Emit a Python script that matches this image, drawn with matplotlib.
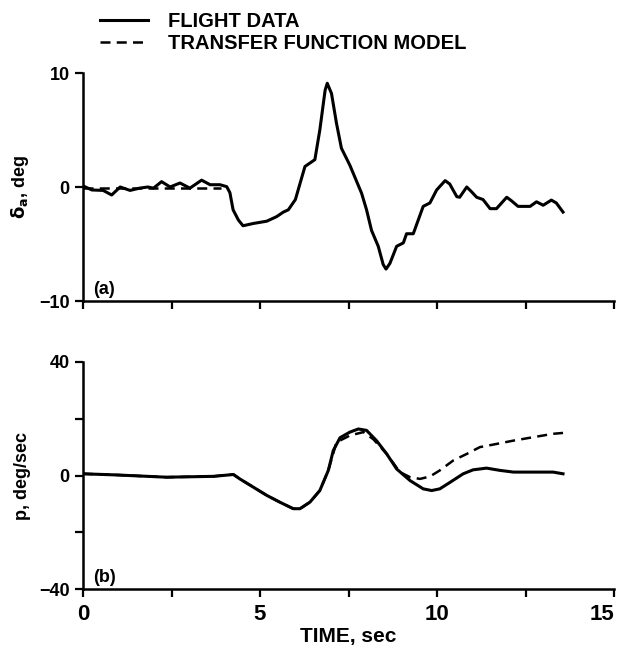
import matplotlib
matplotlib.use("Agg")
import matplotlib.pyplot as plt
from matplotlib.ticker import FixedLocator

plt.rcParams['font.family'] = ['Liberation Sans', 'DejaVu Sans']
plt.rcParams['font.weight'] = 'bold'

# (a) aileron deflection, deg
t_da = [0.0, 0.25, 0.57, 0.81, 1.05, 1.33, 1.6, 1.83, 1.99, 2.22, 2.46, 2.74, 3.02, 3.35,
        3.59, 3.87, 4.06, 4.15, 4.24, 4.39, 4.52, 4.81, 5.19, 5.47, 5.66, 5.8, 6.0, 6.13,
        6.27, 6.41, 6.55, 6.69, 6.84, 6.9, 7.02, 7.16, 7.3, 7.54, 7.87, 8.01, 8.15, 8.34,
        8.48, 8.56, 8.67, 8.86, 9.05, 9.14, 9.33, 9.47, 9.61, 9.8, 9.99, 10.23, 10.36,
        10.56, 10.64, 10.84, 10.97, 11.12, 11.3, 11.5, 11.68, 11.97, 12.1, 12.29, 12.63,
        12.81, 13.0, 13.23, 13.37, 13.56]
da_flight = [0.1, -0.26, -0.3, -0.7, 0.0, -0.3, -0.1, 0.0, -0.1, 0.47, 0.0, 0.35, -0.1, 0.6,
             0.2, 0.2, 0.03, -0.5, -2.0, -2.9, -3.4, -3.2, -3.0, -2.6, -2.2, -2.0, -1.1, 0.3,
             1.8, 2.1, 2.4, 5.0, 8.5, 9.1, 8.2, 5.6, 3.4, 1.9, -0.55, -2.0, -3.8, -5.2,
             -6.8, -7.2, -6.7, -5.2, -4.9, -4.1, -4.1, -2.9, -1.7, -1.4, -0.26, 0.56, 0.26,
             -0.85, -0.9, 0.0, -0.4, -0.9, -1.1, -1.9, -1.9, -0.9, -1.2, -1.7, -1.7,
             -1.3, -1.6, -1.15, -1.4, -2.2]
t_da_model = [0.0, 1.0, 2.0, 3.0, 3.9]
da_model = [-0.1, -0.1, -0.1, -0.1, -0.1]

# (b) roll rate, deg/sec
t_p = [0.0, 0.94, 2.36, 3.68, 4.25, 4.43, 4.81, 5.19, 5.56, 5.94, 6.13, 6.41, 6.69, 6.93,
       7.07, 7.26, 7.54, 7.78, 8.01, 8.29, 8.58, 8.86, 9.24, 9.61, 9.85, 10.08, 10.37,
       10.74, 11.02, 11.4, 11.78, 12.16, 12.72, 13.28, 13.56]
p_flight = [0.6, 0.2, -0.6, -0.3, 0.35, -1.2, -4.1, -7.0, -9.4, -11.7, -11.7, -9.4, -5.3, 1.8,
            8.8, 13.3, 15.3, 16.4, 15.9, 12.3, 7.6, 2.3, -1.8, -4.7, -5.3, -4.7, -2.4,
            0.6, 2.0, 2.6, 1.8, 1.2, 1.2, 1.2, 0.6]
t_p_model = [0.0, 0.94, 2.36, 3.68, 4.25, 4.43, 4.81, 5.19, 5.56, 5.94, 6.13, 6.41, 6.69, 6.93,
             7.16, 7.54, 7.92, 8.2, 8.58, 8.95, 9.24, 9.52, 9.8, 10.08, 10.46, 10.84, 11.21,
             11.59, 12.16, 12.72, 13.28, 13.56]
p_model = [0.6, 0.2, -0.6, -0.3, 0.35, -1.2, -4.1, -7.0, -9.4, -11.7, -11.7, -9.4, -5.3, 1.8,
           11.7, 14.1, 15.3, 12.8, 7.6, 1.2, -0.6, -1.2, -0.35, 1.8, 5.3, 7.6, 10.0,
           10.9, 12.3, 13.5, 14.7, 15.0]

W, H = 618, 649
fig = plt.figure(figsize=(W / 100, H / 100), dpi=100)
ax1 = fig.add_axes([83 / W, 1 - 301 / H, 531 / W, 228 / H])
ax2 = fig.add_axes([83 / W, 1 - 589 / H, 531 / W, 227 / H])

lw = 2.2
l1, = ax1.plot(t_da, da_flight, color='black', lw=lw, solid_joinstyle='round')
l2, = ax1.plot(t_da_model, da_model, color='black', lw=1.8, ls=(0, (4, 2.5)))
ax2.plot(t_p, p_flight, color='black', lw=lw, solid_joinstyle='round')
ax2.plot(t_p_model, p_model, color='black', lw=1.8, ls=(0, (4, 2.5)))

for ax in (ax1, ax2):
    ax.set_xlim(0, 15)
    for s in ('top', 'right'):
        ax.spines[s].set_visible(False)
    for s in ('left', 'bottom'):
        ax.spines[s].set_linewidth(1.8)
    ax.tick_params(which='both', direction='out', length=6, width=1.6)
    ax.xaxis.set_major_locator(FixedLocator([0, 5, 10, 15]))
    ax.xaxis.set_minor_locator(FixedLocator([2.5, 7.5, 12.5]))
    ax.tick_params(axis='y', labelsize=13)

ax1.set_ylim(-10, 10)
ax1.set_yticks([-10, 0, 10])
ax1.tick_params(axis='x', labelbottom=False)
ax1.set_ylabel(r'$\mathbf{\delta_a}$, deg', fontsize=13, fontweight='bold', labelpad=6)
ax1.text(0.02, 0.03, '(a)', transform=ax1.transAxes, fontsize=13, fontweight='bold')

ax2.set_ylim(-40, 40)
ax2.set_yticks([-40, 0, 40])
ax2.yaxis.set_minor_locator(FixedLocator([-20, 20]))
ax2.tick_params(axis='x', labelsize=16, pad=5)
ax2.set_ylabel('p, deg/sec', fontsize=13, fontweight='bold', labelpad=6)
ax2.set_xlabel('TIME, sec', fontsize=15, fontweight='bold', labelpad=1)
ax2.text(0.02, 0.03, '(b)', transform=ax2.transAxes, fontsize=13, fontweight='bold')
ax2.get_xticklabels()[-1].set_horizontalalignment('right')

fig.legend([l1, l2], ['FLIGHT DATA', 'TRANSFER FUNCTION MODEL'],
           loc='upper left', bbox_to_anchor=(82 / W, 1 + 6 / H), frameon=False,
           handlelength=2.4, handletextpad=0.95, labelspacing=0.15,
           prop={'weight': 'bold', 'size': 14.5})

fig.savefig('out.png', dpi=100)
